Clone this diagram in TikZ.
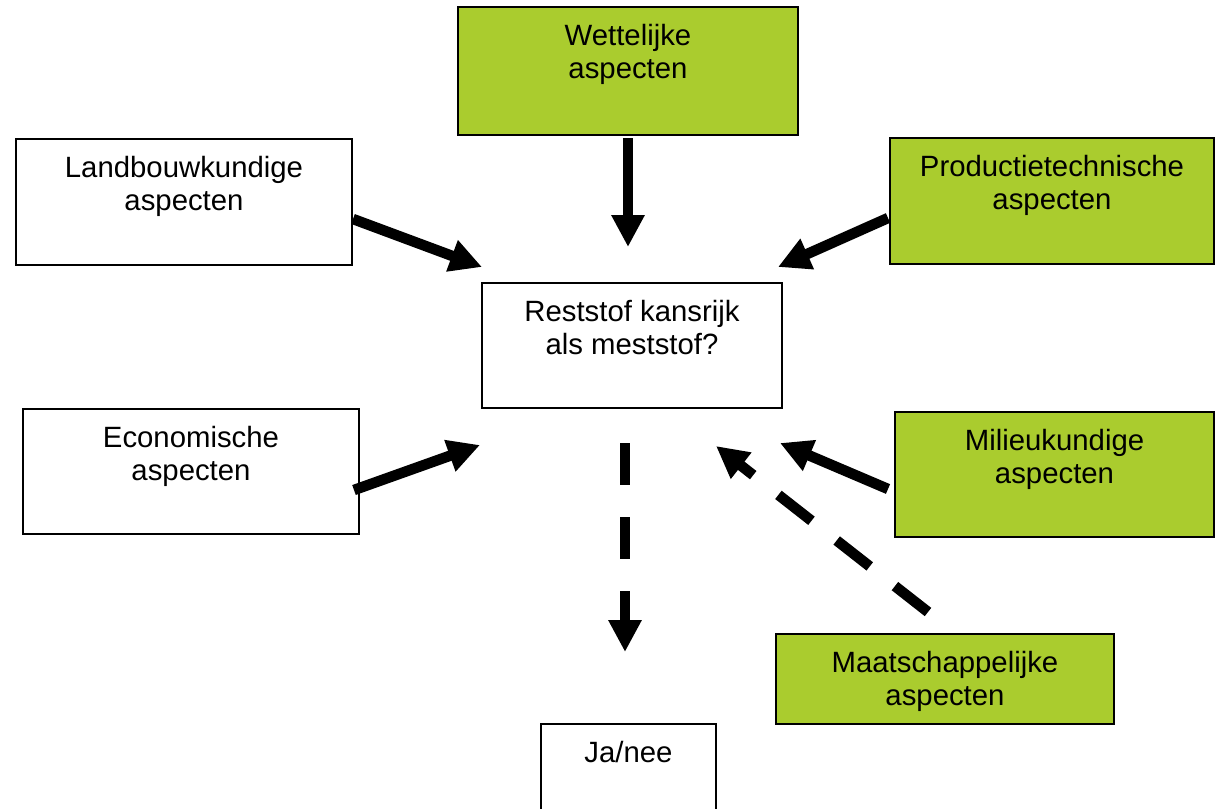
\documentclass[tikz,border=0pt]{standalone}
\usepackage{fontspec}
\setmainfont{Liberation Sans}
\usetikzlibrary{arrows.meta,fit}
\definecolor{lgreen}{RGB}{170,204,46}
\begin{document}
\begin{tikzpicture}[x=0.75pt,y=-0.75pt,
  box/.style={draw=black, line width=1.2pt, inner sep=0pt, fill=white},
  gbox/.style={box, fill=lgreen},
  txt/.style={anchor=north, yshift=-13.5pt, inner sep=0pt, align=center,
    font=\fontsize{22}{24.8}\selectfont},
  arr/.style={line width=7.9pt, -{Triangle[length=24pt,width=23.5pt]}},
  darr/.style={arr, dash pattern=on 31.5pt off 24pt}]
\clip (0,0) rectangle (1216,808);
\fill[white] (0,0) rectangle (1216,808);
% boxes
\node[gbox, fit={(458,7)(798,135)}] (wet) {};
\node[box, fit={(16,139)(352,265)}] (land) {};
\node[gbox, fit={(890,138)(1214,264)}] (prod) {};
\node[box, fit={(482,283)(782,408)}] (rest) {};
\node[box, fit={(23,409)(359,534)}] (eco) {};
\node[gbox, fit={(895,412)(1214,537)}] (mil) {};
\node[gbox, fit={(776,634)(1114,724)}] (maat) {};
\node[box, fit={(541,724)(716,830)}] (ja) {};
% texts
\node[txt] (wett) at (wet.north) {Wettelijke\\aspecten};
\node[txt] (landt) at (land.north) {Landbouwkundige\\aspecten};
\node[txt] (prodt) at (prod.north) {Productietechnische\\aspecten};
\node[txt] (restt) at (rest.north) {Reststof kansrijk\\als meststof?};
\node[txt] (ecot) at (eco.north) {Economische\\aspecten};
\node[txt] (milt) at (mil.north) {Milieukundige\\aspecten};
\node[txt] (maatt) at (maat.north) {Maatschappelijke\\aspecten};
\node[txt] (jat) at (ja.north) {Ja/nee};
% arrow end points
\coordinate (wetS) at (628,138);  \coordinate (wetE) at (628,247);
\coordinate (landS) at (353,219); \coordinate (landE) at (482,267);
\coordinate (prodS) at (888,218); \coordinate (prodE) at (778,267);
\coordinate (ecoS) at (354,490);  \coordinate (ecoE) at (480,445);
\coordinate (milS) at (888,489);  \coordinate (milE) at (780,443);
\coordinate (maatS) at (928,612); \coordinate (maatE) at (716,446);
\coordinate (restS) at (625,443); \coordinate (restE) at (625,652);
% arrows
\draw[arr] (wetS) -- (wetE);
\draw[arr] (landS) -- (landE);
\draw[arr] (prodS) -- (prodE);
\draw[arr] (ecoS) -- (ecoE);
\draw[arr] (milS) -- (milE);
\draw[darr] (maatS) -- (maatE);
\draw[darr] (restS) -- (restE);
\end{tikzpicture}
\end{document}
